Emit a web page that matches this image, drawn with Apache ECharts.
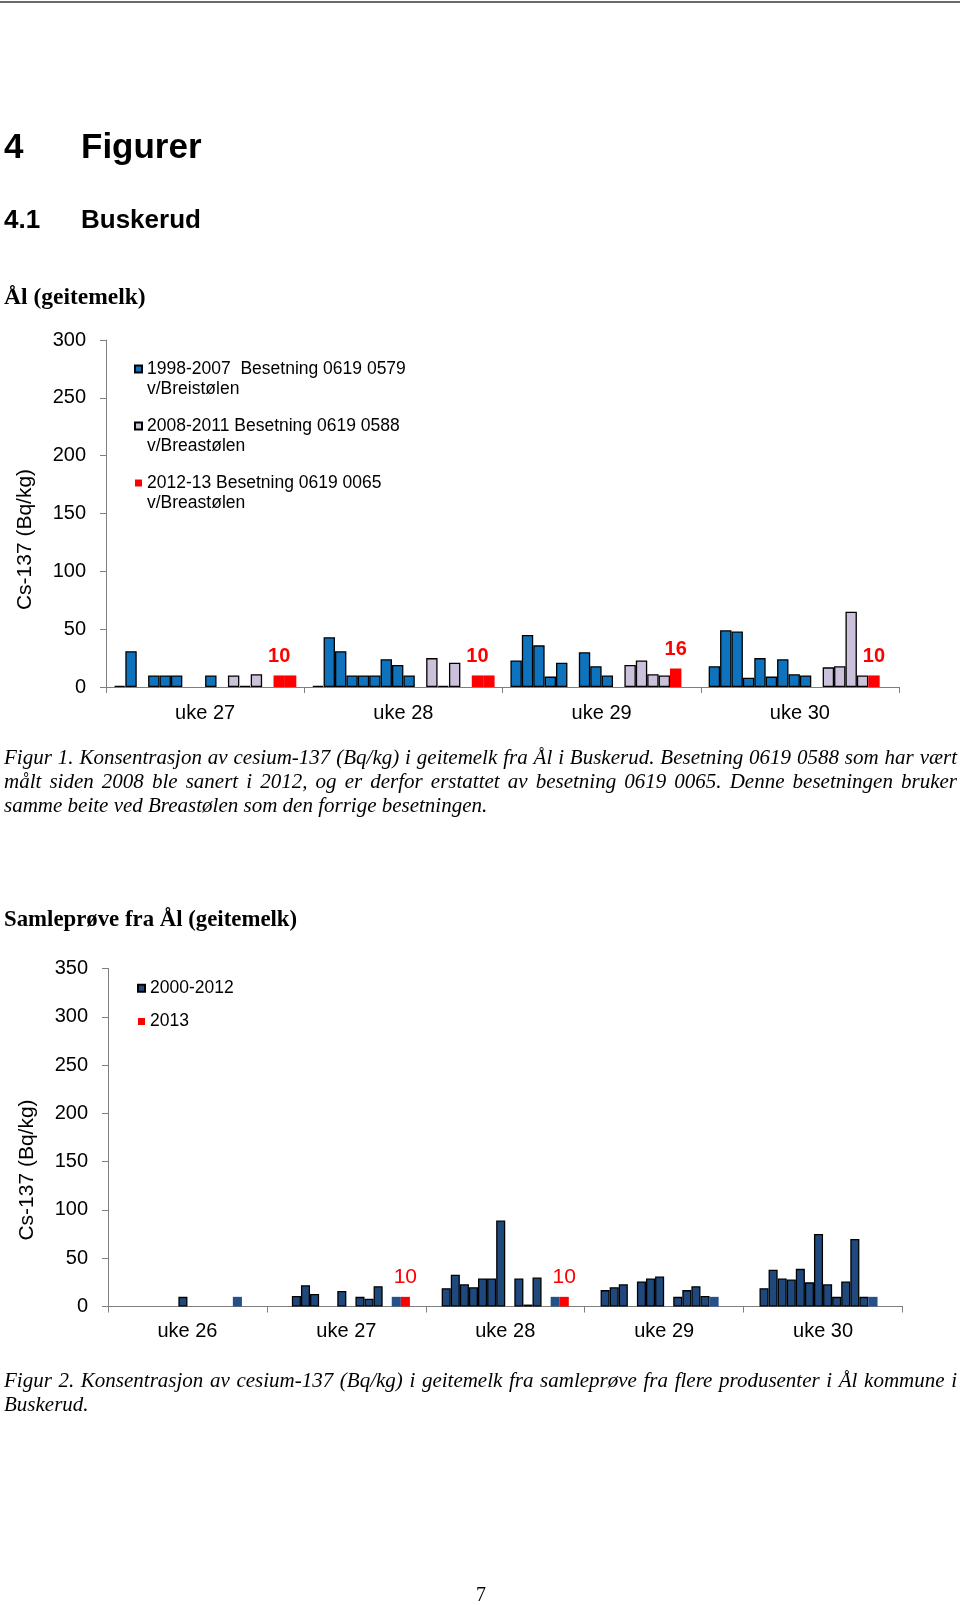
<!DOCTYPE html>
<html><head><meta charset="utf-8">
<script src="https://cdn.jsdelivr.net/npm/echarts@6/dist/echarts.min.js"></script>
<style>
html,body{margin:0;padding:0;background:#fff;}
#page{position:relative;width:960px;height:1605px;overflow:hidden;background:#fff;}
#chart{position:absolute;left:0;top:0;width:960px;height:1605px;}
.t{position:absolute;white-space:nowrap;color:#000;line-height:1;z-index:2;}
.sans{font-family:'Liberation Sans',Arial,sans-serif;font-weight:bold;}
.serifb{font-family:'Liberation Serif','Times New Roman',serif;font-weight:bold;}
.cap{position:absolute;left:4px;width:953px;font-family:'Liberation Serif','Times New Roman',serif;font-style:italic;font-size:21px;line-height:24px;color:#000;z-index:2;}
.j{text-align:justify;text-align-last:justify;}
#rule{position:absolute;left:0;top:1px;width:960px;height:2px;background:#6a6a6a;}
</style></head>
<body><div id="page">
<div id="chart"></div>
<div id="rule"></div>
<div class="t sans" style="left:4px;top:128px;font-size:35px;">4</div>
<div class="t sans" style="left:81px;top:128px;font-size:35px;">Figurer</div>
<div class="t sans" style="left:4px;top:205.5px;font-size:26px;">4.1</div>
<div class="t sans" style="left:81px;top:205.5px;font-size:26px;">Buskerud</div>
<div class="t serifb" style="left:4px;top:284.5px;font-size:23.5px;">Ål (geitemelk)</div>
<div class="cap" style="top:745px;">
<div class="j">Figur 1. Konsentrasjon av cesium-137 (Bq/kg) i geitemelk fra Ål i Buskerud. Besetning 0619 0588 som har vært</div>
<div class="j">målt siden 2008 ble sanert i 2012, og er derfor erstattet av besetning 0619 0065. Denne besetningen bruker</div>
<div>samme beite ved Breastølen som den forrige besetningen.</div>
</div>
<div class="t serifb" style="left:4px;top:908px;font-size:22.8px;">Samleprøve fra Ål (geitemelk)</div>
<div class="cap" style="top:1367.5px;">
<div class="j">Figur 2. Konsentrasjon av cesium-137 (Bq/kg) i geitemelk fra samleprøve fra flere produsenter i Ål kommune i</div>
<div>Buskerud.</div>
</div>
<div class="t" style="left:476px;top:1584px;font-size:20px;font-family:'Liberation Serif',serif;">7</div>
</div>
<script>
// ---------- Figure 1 data (Ål, geitemelk) ----------
const weeks1 = ['uke 27', 'uke 28', 'uke 29', 'uke 30'];
const years1 = ['1998','1999','2000','2001','2002','2003','2004','2005','2006','2007','2008','2009','2010','2011','2012','2013'];
const uke27a = [1, 31, null, 10, 10, 10, null, null, 10, null, 10, 1, 11, null, 10, 10];
const uke28a = [1, 43, 31, 10, 10, 10, 24, 19, 10, null, 25, 1, 21, null, 10, 10];
const uke29a = [23, 45, 36, 9, 21, null, 30, 18, 10, null, 19, 23, 11, 10, 16, null];
const uke30a = [18, 49, 48, 8, 25, 9, 24, 11, 10, null, 17, 18, 65, 10, 10, null];
const groups1 = ['1998-2007  Besetning 0619 0579\nv/Breistølen',
                 '2008-2011 Besetning 0619 0588\nv/Breastølen',
                 '2012-13 Besetning 0619 0065\nv/Breastølen'];
const yTicks1 = [0, 50, 100, 150, 200, 250, 300];

// ---------- Figure 2 data (Samleprøve fra Ål) ----------
const weeks2 = ['uke 26', 'uke 27', 'uke 28', 'uke 29', 'uke 30'];
const years2 = ['2000','2001','2002','2003','2004','2005','2006','2007','2008','2009','2010','2011','2012','2013'];
const uke26b = [null, null, null, null, null, null, 10, null, null, null, null, null, 10, null];
const uke27b = [null, 11, 22, 13, null, null, 16, null, 10, 8, 21, null, 10, 10];
const uke28b = [19, 33, 23, 20, 29, 29, 89, null, 29, 2, 30, null, 10, 10];
const uke29b = [17, 20, 23, null, 26, 29, 31, null, 10, 17, 21, 11, 10, null];
const uke30b = [19, 38, 29, 28, 39, 25, 75, 23, 10, 26, 70, 10, 10, null];
const groups2 = ['2000-2012', '2013'];
const yTicks2 = [0, 50, 100, 150, 200, 250, 300, 350];

const FONT = "'Liberation Sans', Arial, sans-serif";
const AXIS_GRAY = '#7f7f7f';

const cols1 = [uke27a, uke28a, uke29a, uke30a];
const cols2 = [uke26b, uke27b, uke28b, uke29b, uke30b];
const colors1 = ['#0F72BC', '#CCC1DA', '#FF0000'];

const series = [];
years1.forEach((y, i) => {
  const g = i < 10 ? 0 : (i < 14 ? 1 : 2);
  series.push({
    type: 'bar', name: groups1[g], id: 'a' + y,
    xAxisIndex: 0, yAxisIndex: 0,
    data: cols1.map(c => c[i]),
    barGap: '0%', barCategoryGap: '8%',
    itemStyle: { color: colors1[g], borderColor: g < 2 ? '#000' : 'rgba(0,0,0,0)', borderWidth: g < 2 ? 1.3 : 0 },
    label: y === '2012' ? { show: true, position: 'top', distance: 9, color: '#FF0000', fontSize: 20, fontWeight: 'bold', fontFamily: FONT } : { show: false },
    emphasis: { disabled: true }
  });
});
years2.forEach((y, i) => {
  const isRed = y === '2013';
  const noBorder = y === '2012' || isRed;
  series.push({
    type: 'bar', name: isRed ? groups2[1] : groups2[0], id: 'b' + y,
    xAxisIndex: 1, yAxisIndex: 1,
    data: cols2.map(c => c[i]),
    barGap: '0%', barCategoryGap: '20%',
    itemStyle: { color: isRed ? '#FF0000' : (y === '2012' ? '#24518A' : '#1F497D'), borderColor: noBorder ? 'rgba(0,0,0,0)' : '#000', borderWidth: noBorder ? 0 : 1.3 },
    label: isRed ? { show: true, position: 'top', distance: 9, color: '#FF0000', fontSize: 21, fontFamily: FONT } : { show: false },
    emphasis: { disabled: true }
  });
});

function yAxis(idx, max, nameShift) {
  return {
    type: 'value', gridIndex: idx, min: 0, max: max, interval: 50,
    axisLine: { show: true, lineStyle: { color: AXIS_GRAY, width: 1 } },
    axisTick: { show: true, length: 6, lineStyle: { color: AXIS_GRAY } },
    axisLabel: { fontSize: 20, color: '#000', margin: 20, fontFamily: FONT },
    splitLine: { show: false },
    name: 'Cs-137 (Bq/kg)', nameLocation: 'middle', nameGap: 70,
    nameTextStyle: { fontSize: 21, color: '#000', fontFamily: FONT, padding: [0, nameShift, 0, 0] }
  };
}
function xAxis(idx, data, margin) {
  return {
    type: 'category', gridIndex: idx, data: data, boundaryGap: true,
    axisLine: { show: true, lineStyle: { color: AXIS_GRAY, width: 1 } },
    axisTick: { show: true, alignWithLabel: false, length: 6, interval: 0, lineStyle: { color: AXIS_GRAY } },
    axisLabel: { fontSize: 20, color: '#000', margin: margin, interval: 0, fontFamily: FONT },
    splitLine: { show: false }
  };
}

const chart = echarts.init(document.getElementById('chart'), null, { renderer: 'canvas' });
chart.setOption({
  animation: false,
  backgroundColor: '#fff',
  textStyle: { fontFamily: FONT },
  grid: [
    { left: 106, top: 340, width: 793, height: 347, containLabel: false, outerBoundsMode: 'none' },
    { left: 108, top: 968.5, width: 794.5, height: 338, containLabel: false, outerBoundsMode: 'none' }
  ],
  xAxis: [xAxis(0, weeks1, 16), xAxis(1, weeks2, 15)],
  yAxis: [yAxis(0, 300, 52), yAxis(1, 350, 65)],
  legend: [
    { orient: 'vertical', left: 134, top: 339, padding: 0, itemGap: -3, itemWidth: 7, itemHeight: 7,
      icon: 'rect', selectedMode: false, data: groups1,
      formatter: n => '\n' + n,
      textStyle: { fontSize: 17.5, color: '#000', lineHeight: 20, fontFamily: FONT } },
    { orient: 'vertical', left: 137, top: 978.3, padding: 0, itemGap: 13.2, itemWidth: 7, itemHeight: 7,
      icon: 'rect', selectedMode: false, data: groups2,
      textStyle: { fontSize: 17.5, color: '#000', lineHeight: 20, fontFamily: FONT } }
  ],
  series: series
});
</script>
</body></html>
